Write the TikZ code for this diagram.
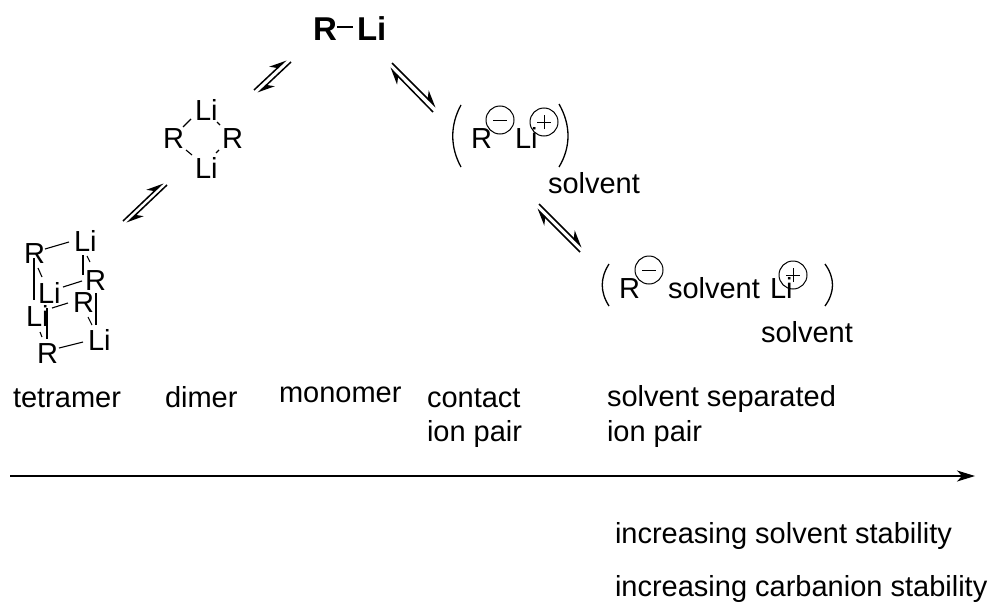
\documentclass[tikz,border=0pt]{standalone}
\usepackage{fontspec}
\setmainfont{Liberation Sans}
\usetikzlibrary{arrows.meta}
\tikzset{
  lbl/.style={inner sep=0pt,outer sep=0pt,anchor=base west,font=\fontsize{29}{32}\selectfont},
  blbl/.style={inner sep=0pt,outer sep=0pt,anchor=base west,font=\fontsize{33}{36}\selectfont\bfseries},
  bond/.style={line width=1.1pt},
  sign/.style={line width=0.9pt},
  eqline/.style={line width=1.5pt,-{Stealth[left,length=15pt,width=13pt,inset=5pt]}},
  brk/.style={line width=1.3pt},
  chg/.style={circle,draw,line width=1pt,minimum size=28pt,inner sep=0pt,outer sep=0pt},
  axis/.style={line width=1.5pt,-{Stealth[length=18pt,width=11pt,inset=5pt]}}
}
\newcommand\bnd[6]{\draw[bond] ([shift={(#2,#3)}]#1.base west) -- ([shift={(#5,#6)}]#4.base west);}
\newcommand\eqarrow[9]{%
  \coordinate (#1a) at (#2,#3); \coordinate (#1b) at (#4,#5);
  \coordinate (#1c) at (#6,#7); \coordinate (#1d) at (#8,#9);
  \draw[eqline] (#1a) -- (#1b);
  \draw[eqline] (#1c) -- (#1d);}
\begin{document}
\begin{tikzpicture}[x=1pt,y=-1pt]
\useasboundingbox (0,0) rectangle (992,602);
% monomer
\node[blbl] (RB) at (313,41) {R};
\node[blbl] (LB) at (357,41) {Li};
\bnd{RB}{24}{-14}{LB}{-4}{-14}
% dimer
\node[lbl] (LiT) at (195,120) {Li};
\node[lbl] (RL) at (163,148) {R};
\node[lbl] (RR) at (222,148) {R};
\node[lbl] (LiB) at (195,178) {Li};
\bnd{RL}{20}{-21}{LiT}{-4}{-1}
\bnd{LiT}{22}{2}{RR}{-2}{-23}
\bnd{RL}{23}{2}{LiB}{-3}{-23}
\bnd{LiB}{21}{-25}{RR}{-3}{2}
% tetramer
\node[lbl] (R1) at (24,263) {R};
\node[lbl] (L1) at (74,251) {Li};
\node[lbl] (R2) at (85,290) {R};
\node[lbl] (L2) at (38,303) {Li};
\node[lbl] (R3) at (73,312) {R};
\node[lbl] (L3) at (26,326) {Li};
\node[lbl] (L4) at (88,350) {Li};
\node[lbl] (R4) at (37,363) {R};
\bnd{R1}{21}{-14}{L1}{-5}{-9}
\bnd{R1}{10}{-5}{L3}{8}{-26}
\bnd{R1}{14}{5}{L2}{4}{-26}
\bnd{L1}{9}{4}{R2}{-2}{-15}
\bnd{L1}{13}{5}{R2}{5}{-28}
\bnd{L2}{25}{-16}{R2}{-3}{-9}
\bnd{L3}{26}{-18}{R3}{-5}{-9}
\bnd{L2}{9}{5}{R4}{10}{-24}
\bnd{L3}{14}{6}{R4}{5}{-26}
\bnd{R2}{11}{3}{L4}{8}{-25}
\bnd{R3}{15}{5}{L4}{4}{-25}
\bnd{R4}{22}{-15}{L4}{-5}{-8}
% equilibrium arrows
\eqarrow{ea}{254}{90}{286}{60}{291}{62}{258}{93}
\eqarrow{eb}{123}{221}{163}{183}{167}{185}{127}{223}
\eqarrow{ec}{392}{63}{436}{107}{433}{112}{390}{68}
\eqarrow{ed}{539}{204}{582}{247}{580}{252}{537}{209}
% contact ion pair
\coordinate (bl1a) at (461,105); \coordinate (bl1b) at (461,167);
\coordinate (br1a) at (559,104); \coordinate (br1b) at (559,167);
\draw[brk] (bl1a) .. controls (450,125) and (450,147) .. (bl1b);
\draw[brk] (br1a) .. controls (571,125) and (571,147) .. (br1b);
\node[lbl] (Rc) at (471,148) {R};
\node[lbl] (Lc) at (515,148) {Li};
\node[chg] (mc) at (500,120) {};
\node[chg] (pc) at (544,122) {};
\draw[sign] ([xshift=-7pt]mc.center) -- ([xshift=7pt]mc.center);
\draw[sign] ([xshift=-7pt]pc.center) -- ([xshift=7pt]pc.center);
\draw[sign] ([yshift=-7pt]pc.center) -- ([yshift=7pt]pc.center);
\node[lbl] (sc) at (548,193) {solvent};
% solvent separated ion pair
\coordinate (bl2a) at (609,264); \coordinate (bl2b) at (609,306);
\coordinate (br2a) at (825,264); \coordinate (br2b) at (825,306);
\draw[brk] (bl2a) .. controls (600,278) and (600,292) .. (bl2b);
\draw[brk] (br2a) .. controls (835,278) and (835,292) .. (br2b);
\node[lbl] (Rs) at (619,298) {R};
\node[lbl] (ss) at (668,298) {solvent};
\node[lbl] (Ls) at (770,298) {Li};
\node[chg] (ms) at (649,270) {};
\node[chg] (ps) at (793,275) {};
\draw[sign] ([xshift=-7pt]ms.center) -- ([xshift=7pt]ms.center);
\draw[sign] ([xshift=-7pt]ps.center) -- ([xshift=7pt]ps.center);
\draw[sign] ([yshift=-7pt]ps.center) -- ([yshift=7pt]ps.center);
\node[lbl] (ss2) at (761,342) {solvent};
% captions
\node[lbl] (t1) at (13,407) {tetramer};
\node[lbl] (t2) at (165,407) {dimer};
\node[lbl] (t3) at (279,402) {monomer};
\node[lbl] (t4) at (427,407) {contact};
\node[lbl] (t5) at (427,441) {ion pair};
\node[lbl] (t6) at (607,406) {solvent separated};
\node[lbl] (t7) at (607,441) {ion pair};
% axis
\coordinate (axs) at (10,476); \coordinate (axe) at (975,476);
\draw[axis] (axs) -- (axe);
\node[lbl] (i1) at (615,543) {increasing solvent stability};
\node[lbl] (i2) at (615,596) {increasing carbanion stability};
\end{tikzpicture}
\end{document}
